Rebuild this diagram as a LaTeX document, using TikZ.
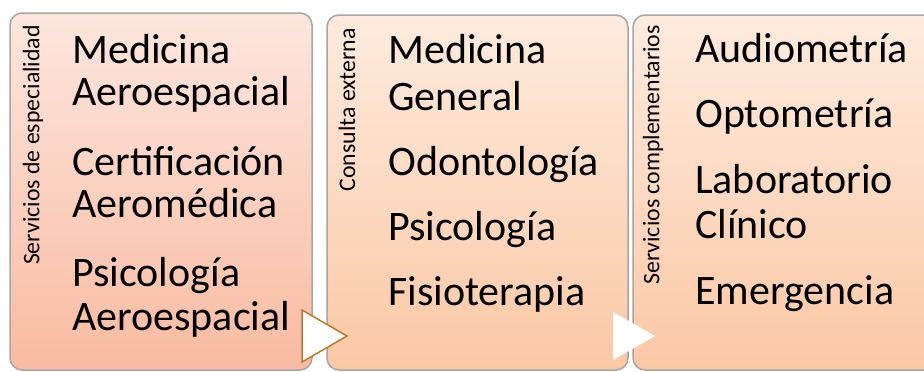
\documentclass[tikz,border=0pt]{standalone}
\usepackage{fontspec}
\setmainfont{Carlito}
\usetikzlibrary{positioning}
\definecolor{paneltopA}{HTML}{FDE6DE}
\definecolor{panelbotA}{HTML}{F9BBA1}
\definecolor{paneltopB}{HTML}{FEEBDD}
\definecolor{panelbotB}{HTML}{FBC8A5}
\definecolor{frameline}{HTML}{A6A6A6}
\definecolor{arrowline}{HTML}{C0772F}
\tikzset{
	panel/.style={draw=frameline,line width=1.5pt,rounded corners=12pt},
	item/.style={anchor=base west,inner sep=0pt,font=\fontsize{42}{44}\selectfont},
	heading/.style={rotate=90,anchor=east,inner sep=0pt,font=\fontsize{23.8}{26}\selectfont},
	stage/.style={fill=white}
}

\begin{document}
\begin{tikzpicture}[x=1pt,y=-1pt]
	\clip (0,0) rectangle (924,372);
	
	% panels
	\draw[panel,top color=paneltopA,bottom color=panelbotA] (10,13) rectangle (312,370);
	\draw[panel,top color=paneltopB,bottom color=panelbotB] (327,15) rectangle (628,370);
	\draw[panel,top color=paneltopB,bottom color=panelbotB] (633,15) rectangle (945,370);
	
	% headings
	\node[heading] (espec) at (33,25) {Servicios de especialidad};
	\node[heading] (consulta) at (347,28) {Consulta externa};
	\node[heading] (compl) at (653,25) {Servicios complementarios};
	
	% items
	\foreach \y/\t [count=\i] in {63/Medicina,105/Aeroespacial,175/Certificación,217/Aeromédica,286/Psicología,330/Aeroespacial}
		\node[item] (espec-\i) at (72,\y) {\t};
	\foreach \y/\t [count=\i] in {63/Medicina,110/General,175/Odontología,240/Psicología,305/Fisioterapia}
		\node[item] (consulta-\i) at (388,\y) {\t};
	\foreach \y/\t [count=\i] in {62/Audiometría,127/Optometría,193/Laboratorio,238/Clínico,304/Emergencia}
		\node[item] (compl-\i) at (695,\y) {\t};
	
	% arrows between panels
	\draw[stage,draw=arrowline,line width=1.5pt,line join=miter] (302,310) -- (347,336) -- (302,362) -- cycle;
	\fill[stage] (613,312) -- (655,336) -- (613,360) -- cycle;
\end{tikzpicture}
\end{document}
